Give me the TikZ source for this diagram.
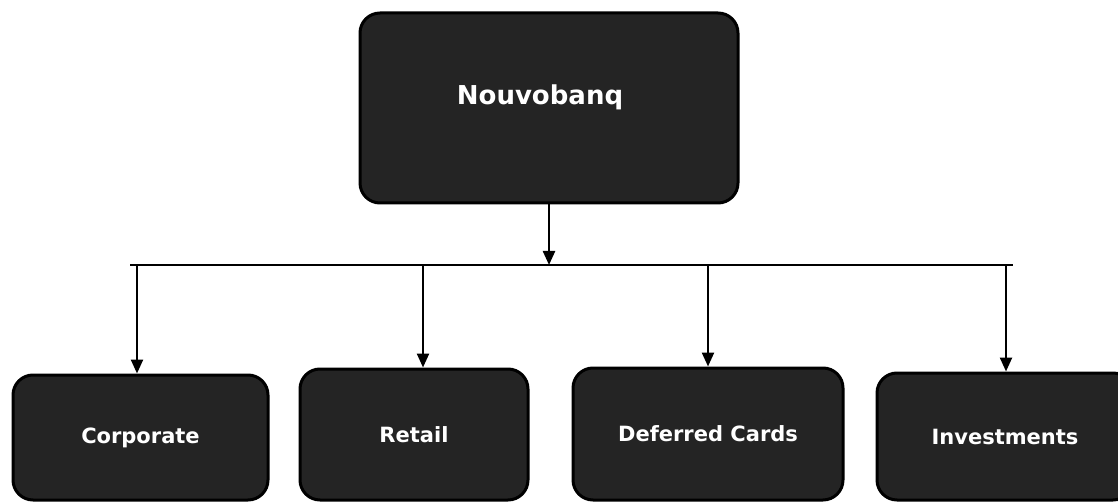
\documentclass[tikz,border=0pt]{standalone}
\usepackage{fontspec}
\setmainfont{DejaVu Sans}
\usetikzlibrary{positioning,arrows.meta}
\tikzset{
  unit/.style={draw=black, line width=3pt, fill=black!86, rounded corners=20pt,
    text=white, inner sep=0pt, font=\bfseries\fontsize{21}{25}\selectfont},
  title/.style={text=white, inner sep=0pt, font=\bfseries\fontsize{26}{31}\selectfont},
  link/.style={line width=2.4pt},
  arr/.style={link, -{Triangle[length=14pt,width=12pt]}}
}
\newcommand{\unitbox}[6]{
  \node[unit, minimum width=#4, minimum height=#5] (#1) at (#2,#3) {#6};
}

\begin{document}
\begin{tikzpicture}[x=1pt,y=-1pt]
\useasboundingbox (0,0) rectangle (1118,502);

% head office on top:
\unitbox{bank}{549}{108}{378pt}{190pt}{}
\node[title] (bank-name) at ([xshift=-9pt,yshift=11pt]bank.center) {Nouvobanq};
% put the four divisions along the bottom:
\unitbox{corp}{140.5}{437.5}{255pt}{125pt}{Corporate}
\unitbox{retail}{414}{434.5}{228pt}{131pt}{Retail}
\unitbox{cards}{708}{434}{270pt}{132pt}{Deferred Cards}
\unitbox{invest}{1005}{436.5}{256pt}{127pt}{Investments}

% bus line and the drops:
\coordinate (busL) at (130,265);
\coordinate (busR) at (1013,265);
\draw[arr] (bank.south) -- (bank.south |- busL);
\draw[link] (busL) -- (busR);
\foreach \name/\x in {corp/137, retail/423, cards/708, invest/1006} {
  \coordinate (drop-\name) at (\x,265);
  \draw[arr] (drop-\name) -- (drop-\name |- \name.north);
}
\end{tikzpicture}
\end{document}
